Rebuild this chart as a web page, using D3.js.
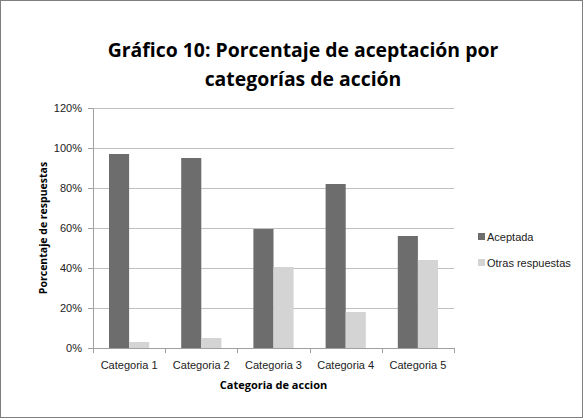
<!DOCTYPE html>
<html>
<head>
<meta charset="utf-8">
<script src="https://cdn.jsdelivr.net/npm/d3@7"></script>
<style>
  body { margin: 0; background: #fff; }
  svg { display: block; }
</style>
</head>
<body>
<script>
const categorias = ['Categoria 1', 'Categoria 2', 'Categoria 3', 'Categoria 4', 'Categoria 5'];
const series = ['Aceptada', 'Otras respuestas'];
const aceptada = [97, 95, 59.5, 82, 56];
const otras = [3, 5, 40.5, 18, 44];
const yTicks = [0, 20, 40, 60, 80, 100, 120];
const colores = ['#6d6d6d', '#d4d4d4'];

const W = 583, H = 418;
const margin = { top: 108, right: 129, bottom: 70, left: 93 };
const w = W - margin.left - margin.right;
const h = H - margin.top - margin.bottom;

const svg = d3.select('body').append('svg')
  .attr('width', W)
  .attr('height', H);

// outer frame
svg.append('rect')
  .attr('x', 0.5).attr('y', 0.5)
  .attr('width', W - 1).attr('height', H - 1)
  .attr('fill', '#fff')
  .attr('stroke', '#7f7f7f');

// title
const title = svg.append('text')
  .attr('text-anchor', 'middle')
  .attr('font-family', 'Open Sans, sans-serif')
  .attr('font-weight', 'bold')
  .attr('font-size', 19.4)
  .attr('fill', '#000');
title.append('tspan').attr('x', 303).attr('y', 57).text('Gráfico 10: Porcentaje de aceptación por');
title.append('tspan').attr('x', 303).attr('y', 86).text('categorías de acción');

const g = svg.append('g').attr('transform', `translate(${margin.left},${margin.top})`);

const x = d3.scaleBand().domain(categorias).range([0, w]).paddingInner(0).paddingOuter(0);
const x1 = d3.scaleBand().domain(series).range([16, x.bandwidth() - 16]);
const y = d3.scaleLinear().domain([0, 120]).range([h, 0]);

// gridlines
g.append('g')
  .selectAll('line')
  .data(yTicks.filter(d => d > 0))
  .enter().append('line')
    .attr('x1', 0).attr('x2', w)
    .attr('y1', d => y(d) + 0.5).attr('y2', d => y(d) + 0.5)
    .attr('stroke', '#c0c0c0');

// y axis
const yAxis = d3.axisLeft(y).tickValues(yTicks).tickSize(5).tickFormat(d => d + '%');
const yg = g.append('g').call(yAxis);
yg.select('.domain').attr('stroke', '#a0a0a0');
yg.selectAll('.tick line').attr('stroke', '#a0a0a0');
yg.selectAll('.tick text')
  .attr('x', -11)
  .attr('font-family', 'Liberation Sans, Arial, sans-serif')
  .attr('font-size', 11)
  .attr('fill', '#222');

// bars
const datos = categorias.map((c, i) => ({ cat: c, vals: [aceptada[i], otras[i]] }));
g.append('g')
  .selectAll('g')
  .data(datos)
  .enter().append('g')
    .attr('transform', d => `translate(${x(d.cat)},0)`)
  .selectAll('rect')
  .data(d => d.vals.map((v, j) => ({ s: series[j], v: v, j: j })))
  .enter().append('rect')
    .attr('x', d => x1(d.s))
    .attr('y', d => y(d.v))
    .attr('width', x1.bandwidth())
    .attr('height', d => h - y(d.v))
    .attr('fill', d => colores[d.j]);

// x axis
const xAxis = d3.axisBottom(x).tickSize(0).tickPadding(13);
const xg = g.append('g').attr('transform', `translate(0,${h})`).call(xAxis);
xg.select('.domain').attr('stroke', '#a0a0a0').attr('d', `M0.5,0.5H${w}`);
xg.selectAll('.tick text')
  .attr('font-family', 'Liberation Sans, Arial, sans-serif')
  .attr('font-size', 11)
  .attr('fill', '#222');
xg.append('g')
  .selectAll('line')
  .data(d3.range(categorias.length + 1))
  .enter().append('line')
    .attr('x1', i => Math.round(i * x.bandwidth()) + 0.5)
    .attr('x2', i => Math.round(i * x.bandwidth()) + 0.5)
    .attr('y1', 0).attr('y2', 5)
    .attr('stroke', '#a0a0a0');

// axis titles
svg.append('text')
  .attr('x', margin.left + w / 2)
  .attr('y', 389)
  .attr('text-anchor', 'middle')
  .attr('font-family', 'Open Sans, sans-serif')
  .attr('font-weight', 'bold')
  .attr('font-size', 11)
  .text('Categoria de accion');

svg.append('text')
  .attr('transform', `translate(47,${margin.top + h / 2}) rotate(-90)`)
  .attr('text-anchor', 'middle')
  .attr('font-family', 'Open Sans, sans-serif')
  .attr('font-weight', 'bold')
  .attr('font-size', 10.5)
  .text('Porcentaje de respuestas');

// legend
const leg = svg.append('g').attr('transform', 'translate(478,233)');
const item = leg.selectAll('g')
  .data(series)
  .enter().append('g')
    .attr('transform', (d, i) => `translate(0,${i * 26})`);
item.append('rect')
  .attr('width', 7).attr('height', 7)
  .attr('fill', (d, i) => colores[i]);
item.append('text')
  .attr('x', 9).attr('y', 8)
  .attr('font-family', 'Liberation Sans, Arial, sans-serif')
  .attr('font-size', 11)
  .attr('fill', '#222')
  .text(d => d);
</script>
</body>
</html>
